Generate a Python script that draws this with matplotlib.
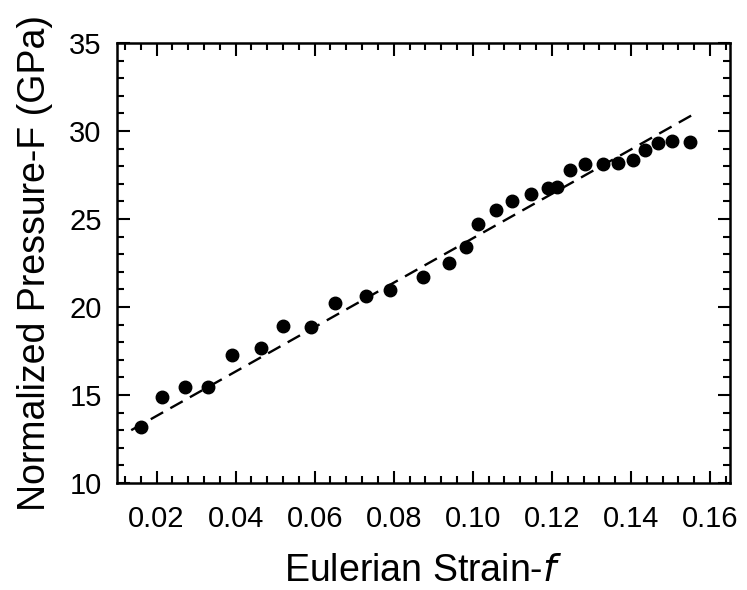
import matplotlib
matplotlib.use("Agg")
import matplotlib.pyplot as plt
from matplotlib.ticker import MultipleLocator, FormatStrFormatter

plt.rcParams['font.family'] = ['Liberation Sans', 'DejaVu Sans']

# Data
strain_f = [0.0162, 0.0215, 0.0271, 0.0329, 0.0392, 0.0463, 0.0521, 0.0590,
            0.0652, 0.0729, 0.0790, 0.0873, 0.0941, 0.0982, 0.1013, 0.1058,
            0.1098, 0.1146, 0.1191, 0.1212, 0.1245, 0.1283, 0.1328, 0.1368,
            0.1406, 0.1436, 0.1469, 0.1503, 0.1549]
pressure_F = [13.2, 14.9, 15.45, 15.45, 17.3, 17.65, 18.9, 18.85,
              20.2, 20.6, 20.95, 21.7, 22.5, 23.4, 24.7, 25.5,
              26.05, 26.45, 26.75, 26.8, 27.8, 28.1, 28.1, 28.2,
              28.35, 28.95, 29.3, 29.45, 29.35]

# Linear fit line endpoints
fit_f = [0.0136, 0.1562]
fit_F = [13.0, 31.0]

xticks = [0.02, 0.04, 0.06, 0.08, 0.10, 0.12, 0.14, 0.16]
yticks = [10, 15, 20, 25, 30, 35]

fig = plt.figure(figsize=(7.47, 5.90), dpi=100)
ax = fig.add_axes([0.1566, 0.1814, 0.8204, 0.7456])

ax.plot(fit_f, fit_F, color='black', lw=1.7, linestyle=(0, (6, 3.5)))
ax.plot(strain_f, pressure_F, 'o', color='black', ms=9, zorder=3)

ax.set_xlim(0.01, 0.165)
ax.set_ylim(10, 35)
ax.set_xticks(xticks)
ax.set_yticks(yticks)
ax.xaxis.set_major_formatter(FormatStrFormatter('%.2f'))
ax.xaxis.set_minor_locator(MultipleLocator(0.004))
ax.yaxis.set_minor_locator(MultipleLocator(1))

for s in ax.spines.values():
    s.set_linewidth(1.8)

ax.tick_params(which='both', direction='in', top=True, right=True, width=1.5)
ax.tick_params(which='major', length=9, labelsize=21)
ax.tick_params(axis='x', which='major', pad=16)
ax.tick_params(axis='y', which='major', pad=11)
ax.tick_params(which='minor', length=5)

ax.set_xlabel('Eulerian Strain-$\\it{f}$', fontsize=27, labelpad=14)
ax.set_ylabel('Normalized Pressure-F (GPa)', fontsize=27, labelpad=12)

fig.savefig('out.png', dpi=100)
